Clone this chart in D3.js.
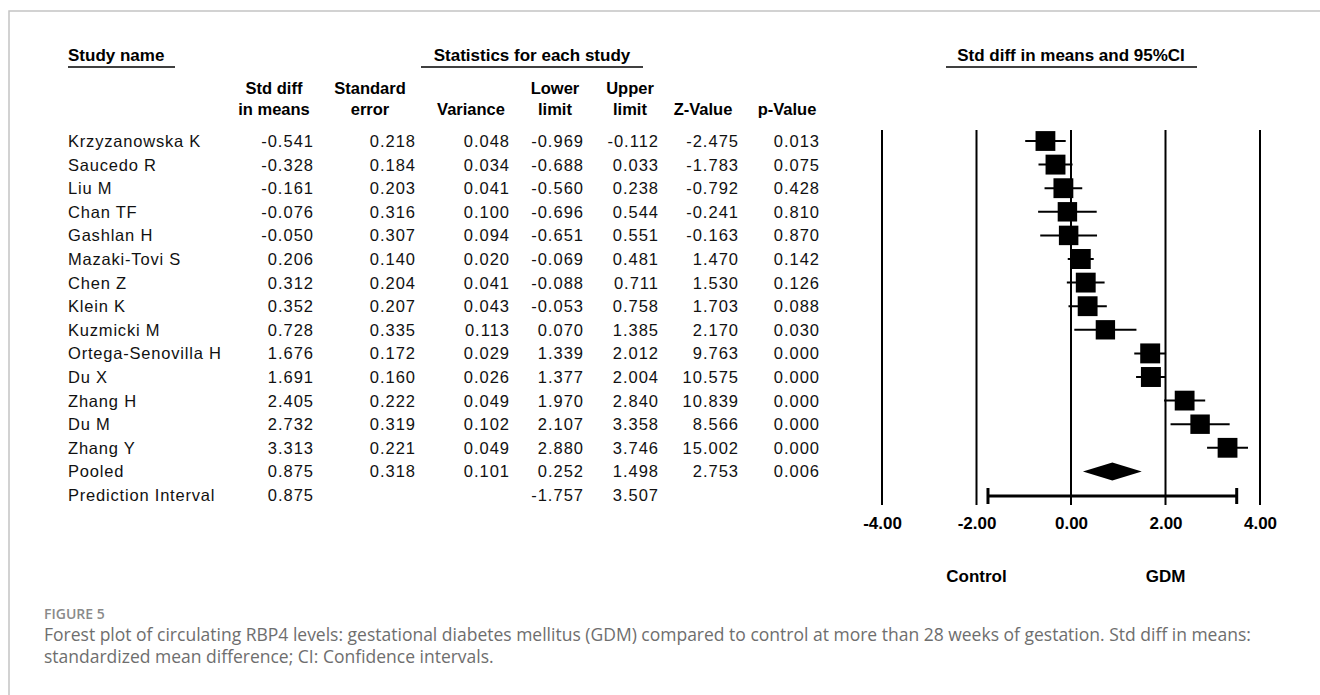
<!DOCTYPE html>
<html>
<head>
<meta charset="utf-8">
<script src="https://cdn.jsdelivr.net/npm/d3@7"></script>
<style>
  body { margin: 0; background: #fff; }
  svg { display: block; }
</style>
</head>
<body>
<svg id="forest"></svg>
<script>
// Study rows (last one is the pooled estimate)
const studies = ["Krzyzanowska K", "Saucedo R", "Liu M", "Chan TF", "Gashlan H", "Mazaki-Tovi S",
  "Chen Z", "Klein K", "Kuzmicki M", "Ortega-Senovilla H", "Du X", "Zhang H", "Du M", "Zhang Y", "Pooled"];
const stdDiff = [-0.541, -0.328, -0.161, -0.076, -0.050, 0.206, 0.312, 0.352, 0.728, 1.676, 1.691, 2.405, 2.732, 3.313, 0.875];
const stdErr = [0.218, 0.184, 0.203, 0.316, 0.307, 0.140, 0.204, 0.207, 0.335, 0.172, 0.160, 0.222, 0.319, 0.221, 0.318];
const variance = [0.048, 0.034, 0.041, 0.100, 0.094, 0.020, 0.041, 0.043, 0.113, 0.029, 0.026, 0.049, 0.102, 0.049, 0.101];
const lowerLimit = [-0.969, -0.688, -0.560, -0.696, -0.651, -0.069, -0.088, -0.053, 0.070, 1.339, 1.377, 1.970, 2.107, 2.880, 0.252];
const upperLimit = [-0.112, 0.033, 0.238, 0.544, 0.551, 0.481, 0.711, 0.758, 1.385, 2.012, 2.004, 2.840, 3.358, 3.746, 1.498];
const zValue = [-2.475, -1.783, -0.792, -0.241, -0.163, 1.470, 1.530, 1.703, 2.170, 9.763, 10.575, 10.839, 8.566, 15.002, 2.753];
const pValue = [0.013, 0.075, 0.428, 0.810, 0.870, 0.142, 0.126, 0.088, 0.030, 0.000, 0.000, 0.000, 0.000, 0.000, 0.006];

// Prediction interval row
const predLabel = "Prediction Interval";
const predValue = 0.875;
const predLower = -1.757;
const predUpper = 3.507;

const tau2 = 1.358; // between-study variance (random effects weights)
const xTicks = [-4, -2, 0, 2, 4];
const sideLabels = ["Control", "GDM"];

const width = 1320, height = 695;
const svg = d3.select("#forest").attr("width", width).attr("height", height);

const fmt = v => v.toFixed(3);
const regular = "'Liberation Sans', Arial, sans-serif";

// frame
svg.append("path")
  .attr("d", `M9,${height} V11 H${width}`)
  .attr("fill", "none")
  .attr("stroke", "#c4c4c4")
  .attr("stroke-width", 1.5);

// rows
const nRows = studies.length + 1;
const y = d3.scaleLinear().domain([0, nRows - 1]).range([141, 495]);
const x = d3.scaleLinear().domain([-4, 4]).range([882, 1260]);

// table columns: right edge of numbers + header centre
const columns = [
  {head: ["Std diff", "in means"], right: 313, mid: 274, values: stdDiff},
  {head: ["Standard", "error"], right: 415, mid: 370, values: stdErr},
  {head: ["", "Variance"], right: 509, mid: 471, values: variance},
  {head: ["Lower", "limit"], right: 583, mid: 555, values: lowerLimit},
  {head: ["Upper", "limit"], right: 658, mid: 630, values: upperLimit},
  {head: ["", "Z-Value"], right: 738, mid: 703, values: zValue},
  {head: ["", "p-Value"], right: 819, mid: 787, values: pValue}
];

// group headers
const groupHeads = [
  {text: "Study name", x: 68, anchor: "start", line: [68, 175]},
  {text: "Statistics for each study", x: 532, anchor: "middle", line: [421, 643]},
  {text: "Std diff in means and 95%CI", x: 1071, anchor: "middle", line: [946, 1197]}
];
groupHeads.forEach(g => {
  svg.append("text")
    .attr("x", g.x).attr("y", 61)
    .attr("text-anchor", g.anchor)
    .style("font-family", regular).style("font-weight", "bold").style("font-size", "17px")
    .text(g.text);
  svg.append("line")
    .attr("x1", g.line[0]).attr("x2", g.line[1])
    .attr("y1", 67).attr("y2", 67)
    .attr("stroke", "#000").attr("stroke-width", 1.5);
});

columns.forEach(c => {
  c.head.forEach((h, k) => {
    svg.append("text")
      .attr("x", c.mid).attr("y", 94 + k * 21)
      .attr("text-anchor", "middle")
      .style("font-family", regular).style("font-weight", "bold").style("font-size", "16.5px")
      .text(h);
  });
});

// study names
svg.selectAll(".name")
  .data(studies.concat([predLabel]))
  .enter().append("text")
  .attr("class", "name")
  .attr("x", 68)
  .attr("y", (d, i) => y(i) + 6)
  .style("font-family", regular).style("font-size", "16.5px").style("letter-spacing", "0.8px")
  .style("fill", "#111")
  .text(d => d);

// numeric cells
columns.forEach(c => {
  svg.selectAll(null)
    .data(c.values)
    .enter().append("text")
    .attr("x", c.right + 1)
    .attr("y", (d, i) => y(i) + 6)
    .attr("text-anchor", "end")
    .style("font-family", regular).style("font-size", "16.5px").style("letter-spacing", "1px")
    .style("fill", "#111")
    .text(d => fmt(d));
});

// prediction interval cells
[[predValue, 313], [predLower, 583], [predUpper, 658]].forEach(([v, r]) => {
  svg.append("text")
    .attr("x", r + 1).attr("y", y(nRows - 1) + 6)
    .attr("text-anchor", "end")
    .style("font-family", regular).style("font-size", "16.5px").style("letter-spacing", "1px")
    .style("fill", "#111")
    .text(fmt(v));
});

// vertical reference lines
svg.selectAll(".vline")
  .data(xTicks)
  .enter().append("line")
  .attr("class", "vline")
  .attr("x1", d => x(d)).attr("x2", d => x(d))
  .attr("y1", 130).attr("y2", 505)
  .attr("stroke", "#000").attr("stroke-width", 2);

// axis labels
const axis = svg.append("g")
  .attr("transform", "translate(0,517)")
  .call(d3.axisBottom(x).tickValues(xTicks).tickSize(0).tickPadding(0)
    .tickFormat(d => fmt(d).replace(/0$/, "")));
axis.select(".domain").remove();
axis.selectAll("text")
  .attr("dy", "0.71em")
  .style("font-family", regular).style("font-weight", "bold").style("font-size", "17px")
  .style("fill", "#000");

// side labels under -2 and 2
svg.selectAll(".side")
  .data(sideLabels)
  .enter().append("text")
  .attr("x", (d, i) => x(i === 0 ? -2 : 2))
  .attr("y", 582)
  .attr("text-anchor", "middle")
  .style("font-family", regular).style("font-weight", "bold").style("font-size", "17px")
  .text(d => d);

// study CIs and squares
const studyIdx = d3.range(studies.length - 1);
const weights = studyIdx.map(i => 1 / (variance[i] + tau2));
const side = d3.scaleSqrt().domain([0, d3.max(weights)]).range([0, 20]);

svg.selectAll(".ci")
  .data(studyIdx)
  .enter().append("line")
  .attr("x1", i => x(lowerLimit[i])).attr("x2", i => x(upperLimit[i]))
  .attr("y1", i => y(i)).attr("y2", i => y(i))
  .attr("stroke", "#000").attr("stroke-width", 2);

svg.selectAll(".sq")
  .data(studyIdx)
  .enter().append("rect")
  .attr("x", i => x(stdDiff[i]) - side(weights[i]) / 2)
  .attr("y", i => y(i) - side(weights[i]) / 2)
  .attr("width", i => side(weights[i]))
  .attr("height", i => side(weights[i]))
  .attr("fill", "#000");

// pooled diamond
const p = studies.length - 1;
svg.append("path")
  .attr("d", `M${x(lowerLimit[p])},${y(p)} L${x(stdDiff[p])},${y(p) - 9} L${x(upperLimit[p])},${y(p)} L${x(stdDiff[p])},${y(p) + 9} Z`)
  .attr("fill", "#000");

// prediction interval bar
const py = y(nRows - 1) + 1;
svg.append("line")
  .attr("x1", x(predLower)).attr("x2", x(predUpper))
  .attr("y1", py).attr("y2", py)
  .attr("stroke", "#000").attr("stroke-width", 3);
[predLower, predUpper].forEach(v => {
  svg.append("line")
    .attr("x1", x(v)).attr("x2", x(v))
    .attr("y1", py - 8).attr("y2", py + 8)
    .attr("stroke", "#000").attr("stroke-width", 3);
});

// caption
svg.append("text")
  .attr("x", 44).attr("y", 619)
  .style("font-family", "'Open Sans', sans-serif").style("font-weight", "600").style("font-size", "14px")
  .style("fill", "#8a8a8a")
  .text("FIGURE 5");

const captionLines = [
  "Forest plot of circulating RBP4 levels: gestational diabetes mellitus (GDM) compared to control at more than 28 weeks of gestation. Std diff in means:",
  "standardized mean difference; CI: Confidence intervals."
];
svg.selectAll(".cap")
  .data(captionLines)
  .enter().append("text")
  .attr("x", 44)
  .attr("y", (d, i) => 641 + i * 21.5)
  .style("font-family", "'Open Sans', sans-serif").style("font-size", "17.5px")
  .style("fill", "#6e6e6e")
  .text(d => d);
</script>
</body>
</html>
